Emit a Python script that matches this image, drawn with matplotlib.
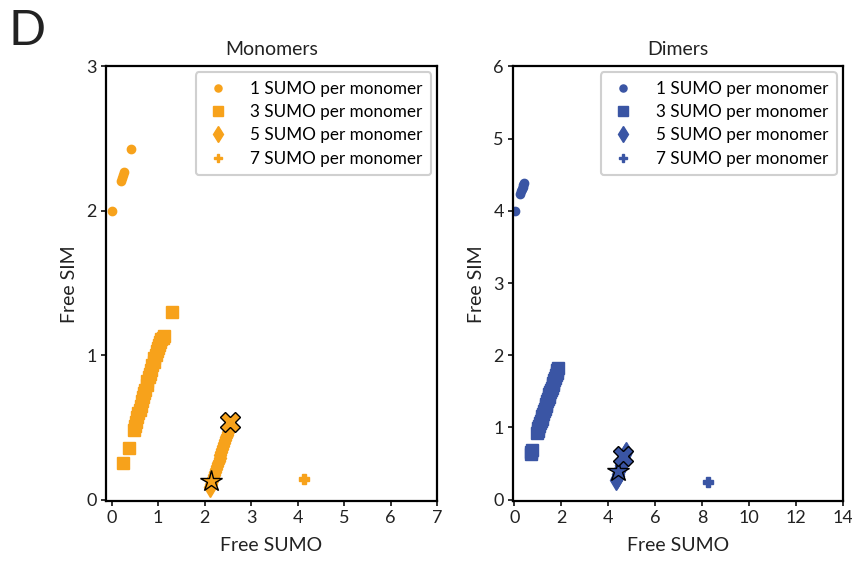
import matplotlib

matplotlib.use("Agg")
import matplotlib.pyplot as plt

plt.rcParams["font.family"] = ["Lato", "DejaVu Sans"]

ORANGE, BLUE, INK = "#F7A21B", "#3A55A4", "#222222"

# ---- Monomers (left) ----
mono_1_x = [0.00, 0.20, 0.22, 0.24, 0.26, 0.42]
mono_1_y = [2.00, 2.21, 2.23, 2.25, 2.27, 2.43]
mono_3_x = [0.24, 0.37, 0.48, 0.50, 0.52, 0.55, 0.57, 0.60, 0.62, 0.65, 0.67, 0.70, 0.72,
            0.75, 0.77, 0.80, 0.82, 0.85, 0.87, 0.90, 0.92, 0.95, 0.97, 1.00, 1.02, 1.05,
            1.07, 1.10, 1.12, 1.30]
mono_3_y = [0.25, 0.36, 0.48, 0.51, 0.54, 0.57, 0.60, 0.62, 0.65, 0.68, 0.71, 0.74, 0.76,
            0.79, 0.82, 0.85, 0.87, 0.90, 0.93, 0.95, 0.98, 1.00, 1.03, 1.05, 1.07, 1.09,
            1.11, 1.12, 1.13, 1.30]
mono_5_x = [2.12, 2.14, 2.16, 2.18, 2.20, 2.22, 2.24, 2.26, 2.28, 2.30, 2.32, 2.34, 2.36,
            2.38, 2.40, 2.42, 2.44, 2.46, 2.48, 2.50]
mono_5_y = [0.09, 0.11, 0.13, 0.15, 0.17, 0.19, 0.21, 0.23, 0.25, 0.27, 0.29, 0.31, 0.33,
            0.35, 0.37, 0.39, 0.41, 0.43, 0.45, 0.47]
mono_7_x = [4.14]
mono_7_y = [0.14]
mono_star = (2.13, 0.13)
mono_cross = (2.55, 0.54)

# ---- Dimers (right) ----
dim_1_x = [0.04, 0.26, 0.29, 0.32, 0.35, 0.38, 0.41]
dim_1_y = [4.00, 4.24, 4.27, 4.30, 4.33, 4.36, 4.38]
dim_3_x = [0.70, 0.72, 0.74, 0.97, 1.00, 1.03, 1.07, 1.10, 1.13, 1.17, 1.20, 1.23, 1.27,
           1.30, 1.33, 1.37, 1.40, 1.43, 1.47, 1.50, 1.53, 1.57, 1.60, 1.63, 1.67, 1.70,
           1.73, 1.77, 1.80, 1.84, 1.88]
dim_3_y = [0.63, 0.66, 0.69, 0.92, 0.95, 0.99, 1.02, 1.06, 1.09, 1.12, 1.16, 1.19, 1.22,
           1.26, 1.29, 1.32, 1.36, 1.39, 1.42, 1.46, 1.49, 1.52, 1.55, 1.59, 1.62, 1.65,
           1.68, 1.72, 1.75, 1.79, 1.82]
dim_5_x = [4.35, 4.38, 4.41, 4.44, 4.47, 4.50, 4.53, 4.56, 4.59, 4.62, 4.65, 4.68, 4.71, 4.75]
dim_5_y = [0.27, 0.30, 0.33, 0.36, 0.39, 0.42, 0.45, 0.48, 0.51, 0.54, 0.57, 0.60, 0.63, 0.66]
dim_7_x = [8.27]
dim_7_y = [0.24]
dim_star = (4.43, 0.39)
dim_cross = (4.65, 0.60)

LABELS = ["1 SUMO per monomer", "3 SUMO per monomer", "5 SUMO per monomer",
          "7 SUMO per monomer"]


def panel(ax, color, series, star, cross, title, xlim, ylim, xticks, yticks):
    styles = [("o", 6), ("s", 8.5), ("d", 10), ("P", 7)]
    for (x, y), (m, ms), lab in zip(series, styles, LABELS):
        ax.plot(x, y, ls="none", marker=m, ms=ms, color=color, mec=color, label=lab)
    ax.plot(*star, ls="none", marker="*", ms=16, mfc=color, mec="black", mew=1.0)
    ax.plot(*cross, ls="none", marker="X", ms=15, mfc=color, mec="black", mew=1.0)
    ax.set_xlim(*xlim)
    ax.set_ylim(*ylim)
    ax.set_xticks(xticks)
    ax.set_yticks(yticks)
    ax.tick_params(labelsize=13, colors=INK, width=1.3, length=3.5, pad=3)
    for s in ax.spines.values():
        s.set_linewidth(1.6)
    ax.set_title(title, fontsize=14, color=INK, pad=8)
    ax.set_xlabel("Free SUMO", fontsize=14, color=INK, labelpad=8)
    ax.set_ylabel("Free SIM", fontsize=14, color=INK, labelpad=6)
    leg = ax.legend(loc="upper right", fontsize=12.3, borderaxespad=0.35, handletextpad=1.1,
                    labelspacing=0.42, fancybox=True, framealpha=1, edgecolor="#d0d0d0",
                    borderpad=0.5, markerscale=0.85, handlelength=1.6)
    leg.get_frame().set_linewidth(1.5)


fig = plt.figure(figsize=(8.52, 5.61), dpi=100)
ax1 = fig.add_axes([0.124, 0.107, 0.389, 0.7745])
ax2 = fig.add_axes([0.602, 0.107, 0.387, 0.7745])

panel(ax1, ORANGE,
      [(mono_1_x, mono_1_y), (mono_3_x, mono_3_y), (mono_5_x, mono_5_y), (mono_7_x, mono_7_y)],
      mono_star, mono_cross, "Monomers", (-0.13, 7), (-0.01, 3), range(0, 8), range(0, 4))
panel(ax2, BLUE,
      [(dim_1_x, dim_1_y), (dim_3_x, dim_3_y), (dim_5_x, dim_5_y), (dim_7_x, dim_7_y)],
      dim_star, dim_cross, "Dimers", (-0.06, 14), (-0.02, 6), range(0, 15, 2), range(0, 7))

fig.text(0.010, 0.905, "D", fontsize=35, color=INK, ha="left", va="bottom")

fig.savefig("out.png", dpi=100)
